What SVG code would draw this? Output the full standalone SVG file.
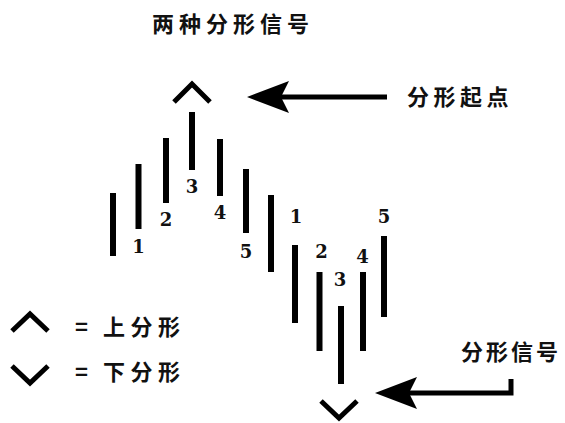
<svg xmlns="http://www.w3.org/2000/svg" width="565" height="423" viewBox="0 0 565 423">
<style>
.cjk{font-family:"Noto Sans CJK SC","Noto Sans",sans-serif;font-weight:bold;font-size:22px;fill:#111}
.num{font-family:"DejaVu Serif",serif;font-weight:bold;font-size:18px;fill:#111;text-anchor:middle}
.bar{fill:#000}
.caret{fill:none;stroke:#000;stroke-width:5;stroke-linejoin:miter}
.conn{fill:none;stroke:#000;stroke-width:5}
</style>
<defs>
<marker id="head" markerUnits="userSpaceOnUse" viewBox="-44 -18 46 36" markerWidth="46" markerHeight="36" refX="-34" refY="0" orient="auto">
<path d="M0,0 L-42,-16 L-34,0 L-42,16 Z" fill="#000"/>
</marker>
</defs>
<rect width="565" height="423" fill="#fff"/>
<g id="title"><text class="cjk" x="152" y="32" letter-spacing="5">两种分形信号</text></g>
<g id="top-caret"><polyline class="caret" points="174,102 192,84 210,102"/></g>
<g id="bottom-caret"><polyline class="caret" points="321,401 339,418 357,401"/></g>
<g id="label-start"><text class="cjk" x="407" y="105" letter-spacing="4.5">分形起点</text></g>
<g id="label-signal"><text class="cjk" x="461" y="360" letter-spacing="3">分形信号</text></g>
<g id="bar-a"><rect class="bar" x="110" y="193" width="6" height="63"/></g>
<g id="bar-b"><rect class="bar" x="135.5" y="164" width="6" height="65"/><text class="num" x="138.5" y="253">1</text></g>
<g id="bar-c"><rect class="bar" x="163" y="138" width="6" height="65"/><text class="num" x="166" y="226">2</text></g>
<g id="bar-d"><rect class="bar" x="189" y="112" width="6" height="58"/><text class="num" x="192" y="193">3</text></g>
<g id="bar-e"><rect class="bar" x="217" y="139" width="6" height="57"/><text class="num" x="220" y="219">4</text></g>
<g id="bar-f"><rect class="bar" x="243" y="169" width="6" height="64"/><text class="num" x="246" y="258">5</text></g>
<g id="bar-g"><rect class="bar" x="268" y="195" width="6" height="77"/></g>
<g id="bar-h"><rect class="bar" x="292" y="245" width="6" height="78"/><text class="num" x="296" y="223">1</text></g>
<g id="bar-i"><rect class="bar" x="316.5" y="272" width="6" height="79"/><text class="num" x="321.5" y="258">2</text></g>
<g id="bar-j"><rect class="bar" x="338" y="306" width="6" height="78"/><text class="num" x="340" y="286">3</text></g>
<g id="bar-k"><rect class="bar" x="360" y="272" width="6" height="79"/><text class="num" x="362.5" y="263">4</text></g>
<g id="bar-l"><rect class="bar" x="381" y="236" width="6" height="81"/><text class="num" x="384" y="223">5</text></g>
<g id="legend-up"><polyline class="caret" points="12,331 30,314 48,331"/><text class="cjk" x="75" y="335">=<tspan x="103" letter-spacing="5.5">上分形</tspan></text></g>
<g id="legend-down"><polyline class="caret" points="12,366 30,383 48,366"/><text class="cjk" x="75" y="380">=<tspan x="103" letter-spacing="5.5">下分形</tspan></text></g>
<g id="connectors">
<path class="conn" d="M387,97 H281" marker-end="url(#head)"/>
<path class="conn" d="M511,379 V393 H409" marker-end="url(#head)"/>
</g>
</svg>
